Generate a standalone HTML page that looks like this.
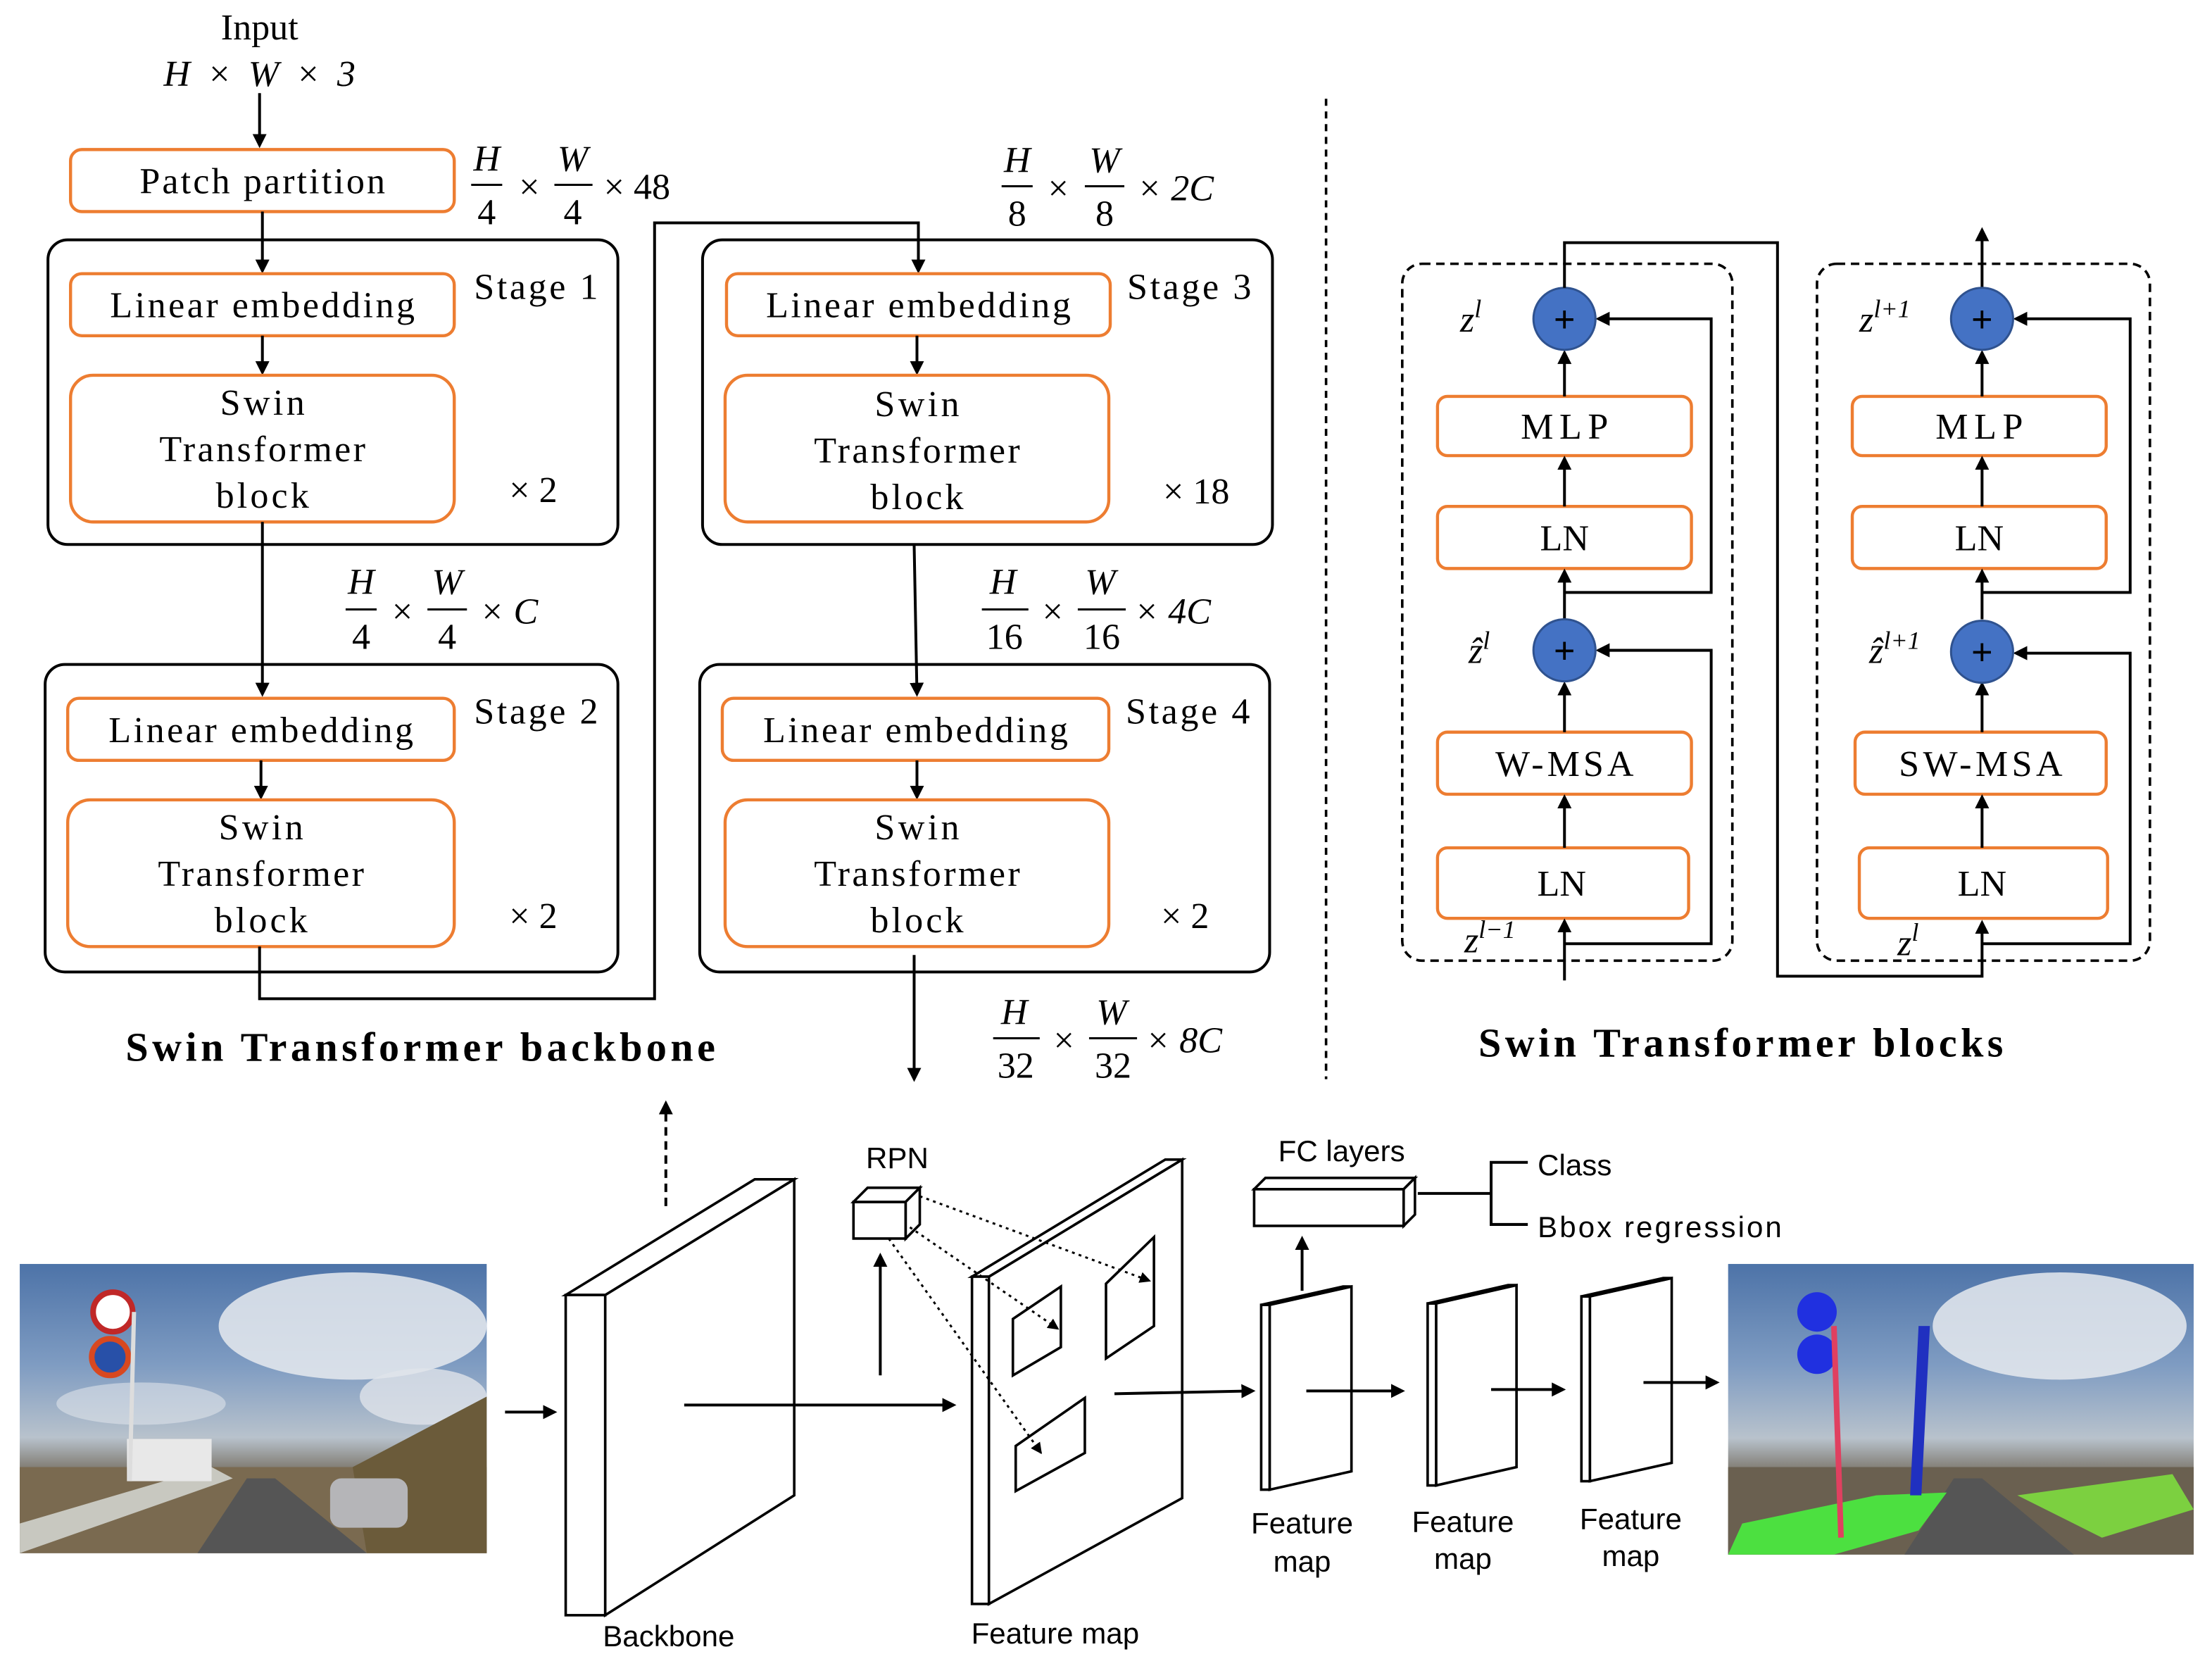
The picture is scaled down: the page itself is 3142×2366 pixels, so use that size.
<!DOCTYPE html>
<html><head><meta charset="utf-8"><style>
html,body{margin:0;padding:0;background:#fff;}
svg{display:block;}
.s{font-family:"Liberation Serif",serif;font-size:26px;fill:#000;}
.i{font-family:"Liberation Serif",serif;font-size:26px;font-style:italic;fill:#000;}
.a{font-family:"Liberation Sans",sans-serif;font-size:21px;fill:#000;}
.o{fill:#fff;stroke:#ED7D31;stroke-width:2.2;}
.k{fill:none;stroke:#000;stroke-width:2;}
.b{fill:#fff;stroke:#000;stroke-width:1.8;}
</style></head><body>
<svg width="3142" height="2366" viewBox="0 0 1568 1181" preserveAspectRatio="none" xmlns="http://www.w3.org/2000/svg">
<defs>
<marker id="ar" markerWidth="10" markerHeight="10" refX="8" refY="5" orient="auto" markerUnits="userSpaceOnUse"><path d="M0,0 L10,5 L0,10 z" fill="#000"/></marker>
<marker id="as" markerWidth="8" markerHeight="8" refX="7" refY="4" orient="auto" markerUnits="userSpaceOnUse"><path d="M0,0 L8,4 L0,8 z" fill="#000"/></marker>
<linearGradient id="sky" x1="0" y1="0" x2="0" y2="1"><stop offset="0" stop-color="#4d73a8"/><stop offset="0.35" stop-color="#7f9cc2"/><stop offset="0.6" stop-color="#b8c2cc"/><stop offset="0.72" stop-color="#7a7468"/><stop offset="1" stop-color="#5a5a58"/></linearGradient>
</defs>
<rect width="1568" height="1181" fill="#fff"/>

<!-- backbone -->
<text class="s" x="184" y="28" text-anchor="middle">Input</text>
<text class="i" x="184" y="61" text-anchor="middle" textLength="136" lengthAdjust="spacing">H × W × 3</text>
<line class="k" x1="184" y1="66" x2="184" y2="103" marker-end="url(#ar)"/>
<rect class="o" x="50" y="106" width="272" height="44" rx="8"/>
<text class="s" x="186" y="137" text-anchor="middle" textLength="174" lengthAdjust="spacing">Patch partition</text>
<g class="i"><text x="345" y="121" text-anchor="middle">H</text><text x="345" y="159" text-anchor="middle" font-style="normal">4</text><text x="375" y="141" text-anchor="middle">×</text><text x="406" y="121" text-anchor="middle">W</text><text x="406" y="159" text-anchor="middle" font-style="normal">4</text><text x="428" y="141" font-style="normal">× 48</text></g>
<line x1="334" y1="131" x2="356" y2="131" stroke="#000" stroke-width="1.5"/><line x1="393" y1="131" x2="420" y2="131" stroke="#000" stroke-width="1.5"/>

<rect class="k" x="34" y="170" width="404" height="216" rx="14"/>
<text class="s" x="380" y="212" text-anchor="middle" textLength="88" lengthAdjust="spacing">Stage 1</text>
<line class="k" x1="186" y1="150" x2="186" y2="192" marker-end="url(#ar)"/>
<rect class="o" x="50" y="194" width="272" height="44" rx="8"/>
<text class="s" x="186" y="225" text-anchor="middle" textLength="216" lengthAdjust="spacing">Linear embedding</text>
<line class="k" x1="186" y1="238" x2="186" y2="264" marker-end="url(#ar)"/>
<rect class="o" x="50" y="266" width="272" height="104" rx="16"/>
<text class="s" x="186" y="294" text-anchor="middle" textLength="60" lengthAdjust="spacing">Swin</text><text class="s" x="186" y="327" text-anchor="middle" textLength="146" lengthAdjust="spacing">Transformer</text><text class="s" x="186" y="360" text-anchor="middle" textLength="66" lengthAdjust="spacing">block</text>
<text class="s" x="378" y="356" text-anchor="middle">× 2</text>
<line class="k" x1="186" y1="370" x2="186" y2="492" marker-end="url(#ar)"/>
<g class="i"><text x="256" y="421" text-anchor="middle">H</text><text x="256" y="460" text-anchor="middle" font-style="normal">4</text><text x="285" y="442" text-anchor="middle">×</text><text x="317" y="421" text-anchor="middle">W</text><text x="317" y="460" text-anchor="middle" font-style="normal">4</text><text x="340" y="442">× C</text></g>
<line x1="245" y1="432" x2="267" y2="432" stroke="#000" stroke-width="1.5"/><line x1="303" y1="432" x2="331" y2="432" stroke="#000" stroke-width="1.5"/>

<rect class="k" x="32" y="471" width="406" height="218" rx="14"/>
<text class="s" x="380" y="513" text-anchor="middle" textLength="88" lengthAdjust="spacing">Stage 2</text>
<rect class="o" x="48" y="495" width="274" height="44" rx="8"/>
<text class="s" x="185" y="526" text-anchor="middle" textLength="216" lengthAdjust="spacing">Linear embedding</text>
<line class="k" x1="185" y1="539" x2="185" y2="565" marker-end="url(#ar)"/>
<rect class="o" x="48" y="567" width="274" height="104" rx="16"/>
<text class="s" x="185" y="595" text-anchor="middle" textLength="60" lengthAdjust="spacing">Swin</text><text class="s" x="185" y="628" text-anchor="middle" textLength="146" lengthAdjust="spacing">Transformer</text><text class="s" x="185" y="661" text-anchor="middle" textLength="66" lengthAdjust="spacing">block</text>
<text class="s" x="378" y="658" text-anchor="middle">× 2</text>
<polyline class="k" points="184,671 184,708 464,708 464,158 651,158 651,192" marker-end="url(#ar)"/>

<g class="i"><text x="721" y="122" text-anchor="middle">H</text><text x="721" y="160" text-anchor="middle" font-style="normal">8</text><text x="750" y="142" text-anchor="middle">×</text><text x="783" y="122" text-anchor="middle">W</text><text x="783" y="160" text-anchor="middle" font-style="normal">8</text><text x="806" y="142">× 2C</text></g>
<line x1="710" y1="132" x2="732" y2="132" stroke="#000" stroke-width="1.5"/><line x1="769" y1="132" x2="797" y2="132" stroke="#000" stroke-width="1.5"/>

<rect class="k" x="498" y="170" width="404" height="216" rx="14"/>
<text class="s" x="843" y="212" text-anchor="middle" textLength="88" lengthAdjust="spacing">Stage 3</text>
<rect class="o" x="515" y="194" width="272" height="44" rx="8"/>
<text class="s" x="651" y="225" text-anchor="middle" textLength="216" lengthAdjust="spacing">Linear embedding</text>
<line class="k" x1="650" y1="238" x2="650" y2="264" marker-end="url(#ar)"/>
<rect class="o" x="514" y="266" width="272" height="104" rx="16"/>
<text class="s" x="650" y="295" text-anchor="middle" textLength="60" lengthAdjust="spacing">Swin</text><text class="s" x="650" y="328" text-anchor="middle" textLength="146" lengthAdjust="spacing">Transformer</text><text class="s" x="650" y="361" text-anchor="middle" textLength="66" lengthAdjust="spacing">block</text>
<text class="s" x="848" y="357" text-anchor="middle">× 18</text>
<line class="k" x1="648" y1="386" x2="650" y2="492" marker-end="url(#ar)"/>
<g class="i"><text x="711" y="421" text-anchor="middle">H</text><text x="712" y="460" text-anchor="middle" font-style="normal">16</text><text x="746" y="442" text-anchor="middle">×</text><text x="780" y="421" text-anchor="middle">W</text><text x="781" y="460" text-anchor="middle" font-style="normal">16</text><text x="804" y="442">× 4C</text></g>
<line x1="696" y1="432" x2="729" y2="432" stroke="#000" stroke-width="1.5"/><line x1="764" y1="432" x2="798" y2="432" stroke="#000" stroke-width="1.5"/>

<rect class="k" x="496" y="471" width="404" height="218" rx="14"/>
<text class="s" x="842" y="513" text-anchor="middle" textLength="88" lengthAdjust="spacing">Stage 4</text>
<rect class="o" x="512" y="495" width="274" height="44" rx="8"/>
<text class="s" x="649" y="526" text-anchor="middle" textLength="216" lengthAdjust="spacing">Linear embedding</text>
<line class="k" x1="650" y1="539" x2="650" y2="565" marker-end="url(#ar)"/>
<rect class="o" x="514" y="567" width="272" height="104" rx="16"/>
<text class="s" x="650" y="595" text-anchor="middle" textLength="60" lengthAdjust="spacing">Swin</text><text class="s" x="650" y="628" text-anchor="middle" textLength="146" lengthAdjust="spacing">Transformer</text><text class="s" x="650" y="661" text-anchor="middle" textLength="66" lengthAdjust="spacing">block</text>
<text class="s" x="840" y="658" text-anchor="middle">× 2</text>
<line class="k" x1="648" y1="677" x2="648" y2="765" marker-end="url(#ar)"/>
<g class="i"><text x="719" y="726" text-anchor="middle">H</text><text x="720" y="764" text-anchor="middle" font-style="normal">32</text><text x="754" y="746" text-anchor="middle">×</text><text x="788" y="726" text-anchor="middle">W</text><text x="789" y="764" text-anchor="middle" font-style="normal">32</text><text x="812" y="746">× 8C</text></g>
<line x1="704" y1="736" x2="737" y2="736" stroke="#000" stroke-width="1.5"/><line x1="772" y1="736" x2="806" y2="736" stroke="#000" stroke-width="1.5"/>
<text x="298" y="752" text-anchor="middle" font-family="Liberation Serif,serif" font-weight="bold" font-size="29" textLength="418" lengthAdjust="spacing">Swin Transformer backbone</text>

<line x1="940" y1="70" x2="940" y2="765" stroke="#000" stroke-width="1.8" stroke-dasharray="5,4"/>

<!-- blocks -->
<rect x="994" y="187" width="234" height="494" rx="14" fill="none" stroke="#000" stroke-width="1.8" stroke-dasharray="6,4"/>
<rect x="1288" y="187" width="236" height="494" rx="14" fill="none" stroke="#000" stroke-width="1.8" stroke-dasharray="6,4"/>
<g>
<rect class="o" x="1019" y="281" width="180" height="42" rx="7"/><text class="s" x="1109" y="311" text-anchor="middle" textLength="62" lengthAdjust="spacing">MLP</text>
<rect class="o" x="1019" y="359" width="180" height="44" rx="7"/><text class="s" x="1109" y="390" text-anchor="middle">LN</text>
<rect class="o" x="1019" y="519" width="180" height="44" rx="7"/><text class="s" x="1109" y="550" text-anchor="middle" textLength="98" lengthAdjust="spacing">W-MSA</text>
<rect class="o" x="1019" y="601" width="178" height="50" rx="7"/><text class="s" x="1107" y="635" text-anchor="middle">LN</text>
<line class="k" x1="1109" y1="695" x2="1109" y2="653" marker-end="url(#ar)"/>
<line class="k" x1="1109" y1="601" x2="1109" y2="565" marker-end="url(#ar)"/>
<line class="k" x1="1109" y1="519" x2="1109" y2="485" marker-end="url(#ar)"/>
<line class="k" x1="1109" y1="439" x2="1109" y2="405" marker-end="url(#ar)"/>
<line class="k" x1="1109" y1="359" x2="1109" y2="325" marker-end="url(#ar)"/>
<line class="k" x1="1109" y1="281" x2="1109" y2="250" marker-end="url(#ar)"/>
<polyline class="k" points="1109,669 1213,669 1213,461 1133,461" marker-end="url(#ar)"/>
<polyline class="k" points="1109,420 1213,420 1213,226 1133,226" marker-end="url(#ar)"/>
<circle cx="1109" cy="226" r="22" fill="#4472C4" stroke="#2F528F" stroke-width="1.5"/><text x="1109" y="235" text-anchor="middle" font-size="26" font-family="Liberation Sans,sans-serif">+</text>
<circle cx="1109" cy="461" r="22" fill="#4472C4" stroke="#2F528F" stroke-width="1.5"/><text x="1109" y="470" text-anchor="middle" font-size="26" font-family="Liberation Sans,sans-serif">+</text>
<text class="i" x="1035" y="235">z<tspan font-size="18" dy="-10">l</tspan></text>
<text class="i" x="1041" y="470">ẑ<tspan font-size="18" dy="-10">l</tspan></text>
<text class="i" x="1038" y="675">z<tspan font-size="18" dy="-10">l−1</tspan></text>
</g>
<polyline class="k" points="1109,204 1109,172 1260,172 1260,692 1405,692 1405,654" marker-end="url(#ar)"/>
<g>
<rect class="o" x="1313" y="281" width="180" height="42" rx="7"/><text class="s" x="1403" y="311" text-anchor="middle" textLength="62" lengthAdjust="spacing">MLP</text>
<rect class="o" x="1313" y="359" width="180" height="44" rx="7"/><text class="s" x="1403" y="390" text-anchor="middle">LN</text>
<rect class="o" x="1315" y="519" width="178" height="44" rx="7"/><text class="s" x="1404" y="550" text-anchor="middle" textLength="116" lengthAdjust="spacing">SW-MSA</text>
<rect class="o" x="1318" y="601" width="176" height="50" rx="7"/><text class="s" x="1405" y="635" text-anchor="middle">LN</text>
<line class="k" x1="1405" y1="601" x2="1405" y2="565" marker-end="url(#ar)"/>
<line class="k" x1="1405" y1="519" x2="1405" y2="485" marker-end="url(#ar)"/>
<line class="k" x1="1405" y1="439" x2="1405" y2="405" marker-end="url(#ar)"/>
<line class="k" x1="1405" y1="359" x2="1405" y2="325" marker-end="url(#ar)"/>
<line class="k" x1="1405" y1="281" x2="1405" y2="250" marker-end="url(#ar)"/>
<line class="k" x1="1405" y1="204" x2="1405" y2="163" marker-end="url(#ar)"/>
<polyline class="k" points="1405,669 1510,669 1510,463 1429,463" marker-end="url(#ar)"/>
<polyline class="k" points="1405,420 1510,420 1510,226 1429,226" marker-end="url(#ar)"/>
<circle cx="1405" cy="226" r="22" fill="#4472C4" stroke="#2F528F" stroke-width="1.5"/><text x="1405" y="235" text-anchor="middle" font-size="26" font-family="Liberation Sans,sans-serif">+</text>
<circle cx="1405" cy="462" r="22" fill="#4472C4" stroke="#2F528F" stroke-width="1.5"/><text x="1405" y="471" text-anchor="middle" font-size="26" font-family="Liberation Sans,sans-serif">+</text>
<text class="i" x="1318" y="235">z<tspan font-size="18" dy="-10">l+1</tspan></text>
<text class="i" x="1325" y="470">ẑ<tspan font-size="18" dy="-10">l+1</tspan></text>
<text class="i" x="1345" y="677">z<tspan font-size="18" dy="-10">l</tspan></text>
</g>
<text x="1234" y="749" text-anchor="middle" font-family="Liberation Serif,serif" font-weight="bold" font-size="29" textLength="372" lengthAdjust="spacing">Swin Transformer blocks</text>

<!-- bottom pipeline: photos -->
<rect x="14" y="896" width="331" height="205" fill="url(#sky)"/>
<ellipse cx="250" cy="940" rx="95" ry="38" fill="#e6eaef" opacity="0.85"/><ellipse cx="300" cy="990" rx="45" ry="20" fill="#e0e4ea" opacity="0.8"/><ellipse cx="100" cy="995" rx="60" ry="15" fill="#dde3ea" opacity="0.6"/>
<rect x="14" y="1040" width="331" height="61" fill="#7a6a50"/>
<polygon points="140,1101 175,1048 195,1048 260,1101" fill="#555"/>
<polygon points="14,1101 14,1080 150,1040 165,1048" fill="#c8c8c0"/>
<polygon points="250,1040 345,990 345,1101 260,1101" fill="#6b5b3a"/>
<rect x="90" y="1020" width="60" height="30" fill="#e8e8e8"/>
<rect x="234" y="1048" width="55" height="35" rx="8" fill="#b5b5b8"/>
<circle cx="80" cy="930" r="14" fill="#fff" stroke="#c02828" stroke-width="4"/><circle cx="78" cy="962" r="13" fill="#2850a8" stroke="#d84820" stroke-width="4"/>
<line x1="95" y1="930" x2="92" y2="1050" stroke="#ddd" stroke-width="3"/>
<rect x="1225" y="896" width="330" height="206" fill="url(#sky)"/>
<ellipse cx="1460" cy="940" rx="90" ry="38" fill="#e6eaef" opacity="0.85"/>
<rect x="1225" y="1040" width="330" height="62" fill="#6a6050"/>
<polygon points="1350,1102 1385,1048 1405,1048 1470,1102" fill="#555"/>
<polygon points="1225,1102 1235,1080 1330,1060 1380,1058 1360,1085 1300,1102" fill="#4ce040"/>
<polygon points="1430,1060 1540,1045 1555,1070 1490,1090" fill="#7cd040"/>
<circle cx="1288" cy="930" r="14" fill="#2030e0"/><circle cx="1288" cy="960" r="14" fill="#2030e0"/>
<polygon points="1360,940 1368,940 1362,1060 1354,1060" fill="#2030c0"/>
<line x1="1300" y1="940" x2="1305" y2="1090" stroke="#e04060" stroke-width="4"/>

<line class="k" x1="358" y1="1001" x2="393" y2="1001" marker-end="url(#ar)"/>
<!-- backbone slab -->
<polygon class="b" points="429,918 563,836 563,1060 429,1145"/>
<polygon class="b" points="401,918 535,836 563,836 429,918"/>
<rect class="b" x="401" y="918" width="28" height="227"/>
<line x1="472" y1="855" x2="472" y2="782" stroke="#000" stroke-width="2" stroke-dasharray="6,4" marker-end="url(#ar)"/>
<line class="k" x1="485" y1="996" x2="676" y2="996" marker-end="url(#ar)"/>
<text class="a" x="474" y="1167" text-anchor="middle">Backbone</text>
<!-- RPN cube -->
<polygon class="b" points="605,852 642,852 642,878 605,878"/>
<polygon class="b" points="605,852 615,842 652,842 642,852"/>
<polygon class="b" points="642,852 652,842 652,868 642,878"/>
<text class="a" x="636" y="828" text-anchor="middle">RPN</text>
<line class="k" x1="624" y1="975" x2="624" y2="890" marker-end="url(#ar)"/>
<!-- feature map slab -->
<polygon class="b" points="701,905 838,822 838,1062 701,1137" stroke-width="2.2"/>
<polygon class="b" points="689,905 826,822 838,822 701,905" stroke-width="2.2"/>
<rect class="b" x="689" y="905" width="12" height="232" stroke-width="2.2"/>
<polygon class="b" points="718,935 752,912 752,955 718,975" stroke-width="2.2"/>
<polygon class="b" points="784,910 818,877 818,940 784,963" stroke-width="2.2"/>
<polygon class="b" points="720,1025 769,991 769,1030 720,1057" stroke-width="2.2"/>
<g stroke="#000" stroke-width="1.5" stroke-dasharray="2,3" fill="none">
<line x1="645" y1="870" x2="750" y2="942" marker-end="url(#as)"/>
<line x1="652" y1="848" x2="815" y2="908" marker-end="url(#as)"/>
<line x1="630" y1="878" x2="738" y2="1030" marker-end="url(#as)"/>
</g>
<text class="a" x="748" y="1165" text-anchor="middle">Feature map</text>
<line class="k" x1="790" y1="988" x2="888" y2="986" marker-end="url(#ar)"/>
<!-- small maps -->
<g>
<polygon class="b" points="900,925 958,912 958,1043 900,1056" stroke-width="2.2"/><rect class="b" x="894" y="925" width="6" height="131" stroke-width="2.2"/><polygon class="b" points="894,925 952,912 958,912 900,925"/>
<polygon class="b" points="1018,924 1075,911 1075,1040 1018,1053" stroke-width="2.2"/><rect class="b" x="1012" y="924" width="6" height="129" stroke-width="2.2"/><polygon class="b" points="1012,924 1069,911 1075,911 1018,924"/>
<polygon class="b" points="1127,919 1185,906 1185,1037 1127,1050" stroke-width="2.2"/><rect class="b" x="1121" y="919" width="6" height="131" stroke-width="2.2"/><polygon class="b" points="1121,919 1179,906 1185,906 1127,919"/>
</g>
<line class="k" x1="926" y1="986" x2="994" y2="986" marker-end="url(#ar)"/>
<line class="k" x1="1057" y1="985" x2="1108" y2="985" marker-end="url(#ar)"/>
<line class="k" x1="1165" y1="980" x2="1217" y2="980" marker-end="url(#ar)"/>
<text class="a" x="923" y="1087" text-anchor="middle">Feature</text><text class="a" x="923" y="1114" text-anchor="middle">map</text>
<text class="a" x="1037" y="1086" text-anchor="middle">Feature</text><text class="a" x="1037" y="1112" text-anchor="middle">map</text>
<text class="a" x="1156" y="1084" text-anchor="middle">Feature</text><text class="a" x="1156" y="1110" text-anchor="middle">map</text>
<line class="k" x1="923" y1="915" x2="923" y2="878" marker-end="url(#ar)"/>
<polygon class="b" points="889,843 995,843 995,869 889,869"/>
<polygon class="b" points="889,843 897,835 1003,835 995,843"/>
<polygon class="b" points="995,843 1003,835 1003,861 995,869"/>
<text class="a" x="951" y="823" text-anchor="middle">FC layers</text>
<polyline class="k" points="1005,846 1057,846"/>
<polyline class="k" points="1083,824 1057,824 1057,868 1083,868"/>
<text class="a" x="1090" y="833">Class</text>
<text class="a" x="1090" y="877" textLength="173" lengthAdjust="spacing">Bbox regression</text>
</svg>
</body></html>
